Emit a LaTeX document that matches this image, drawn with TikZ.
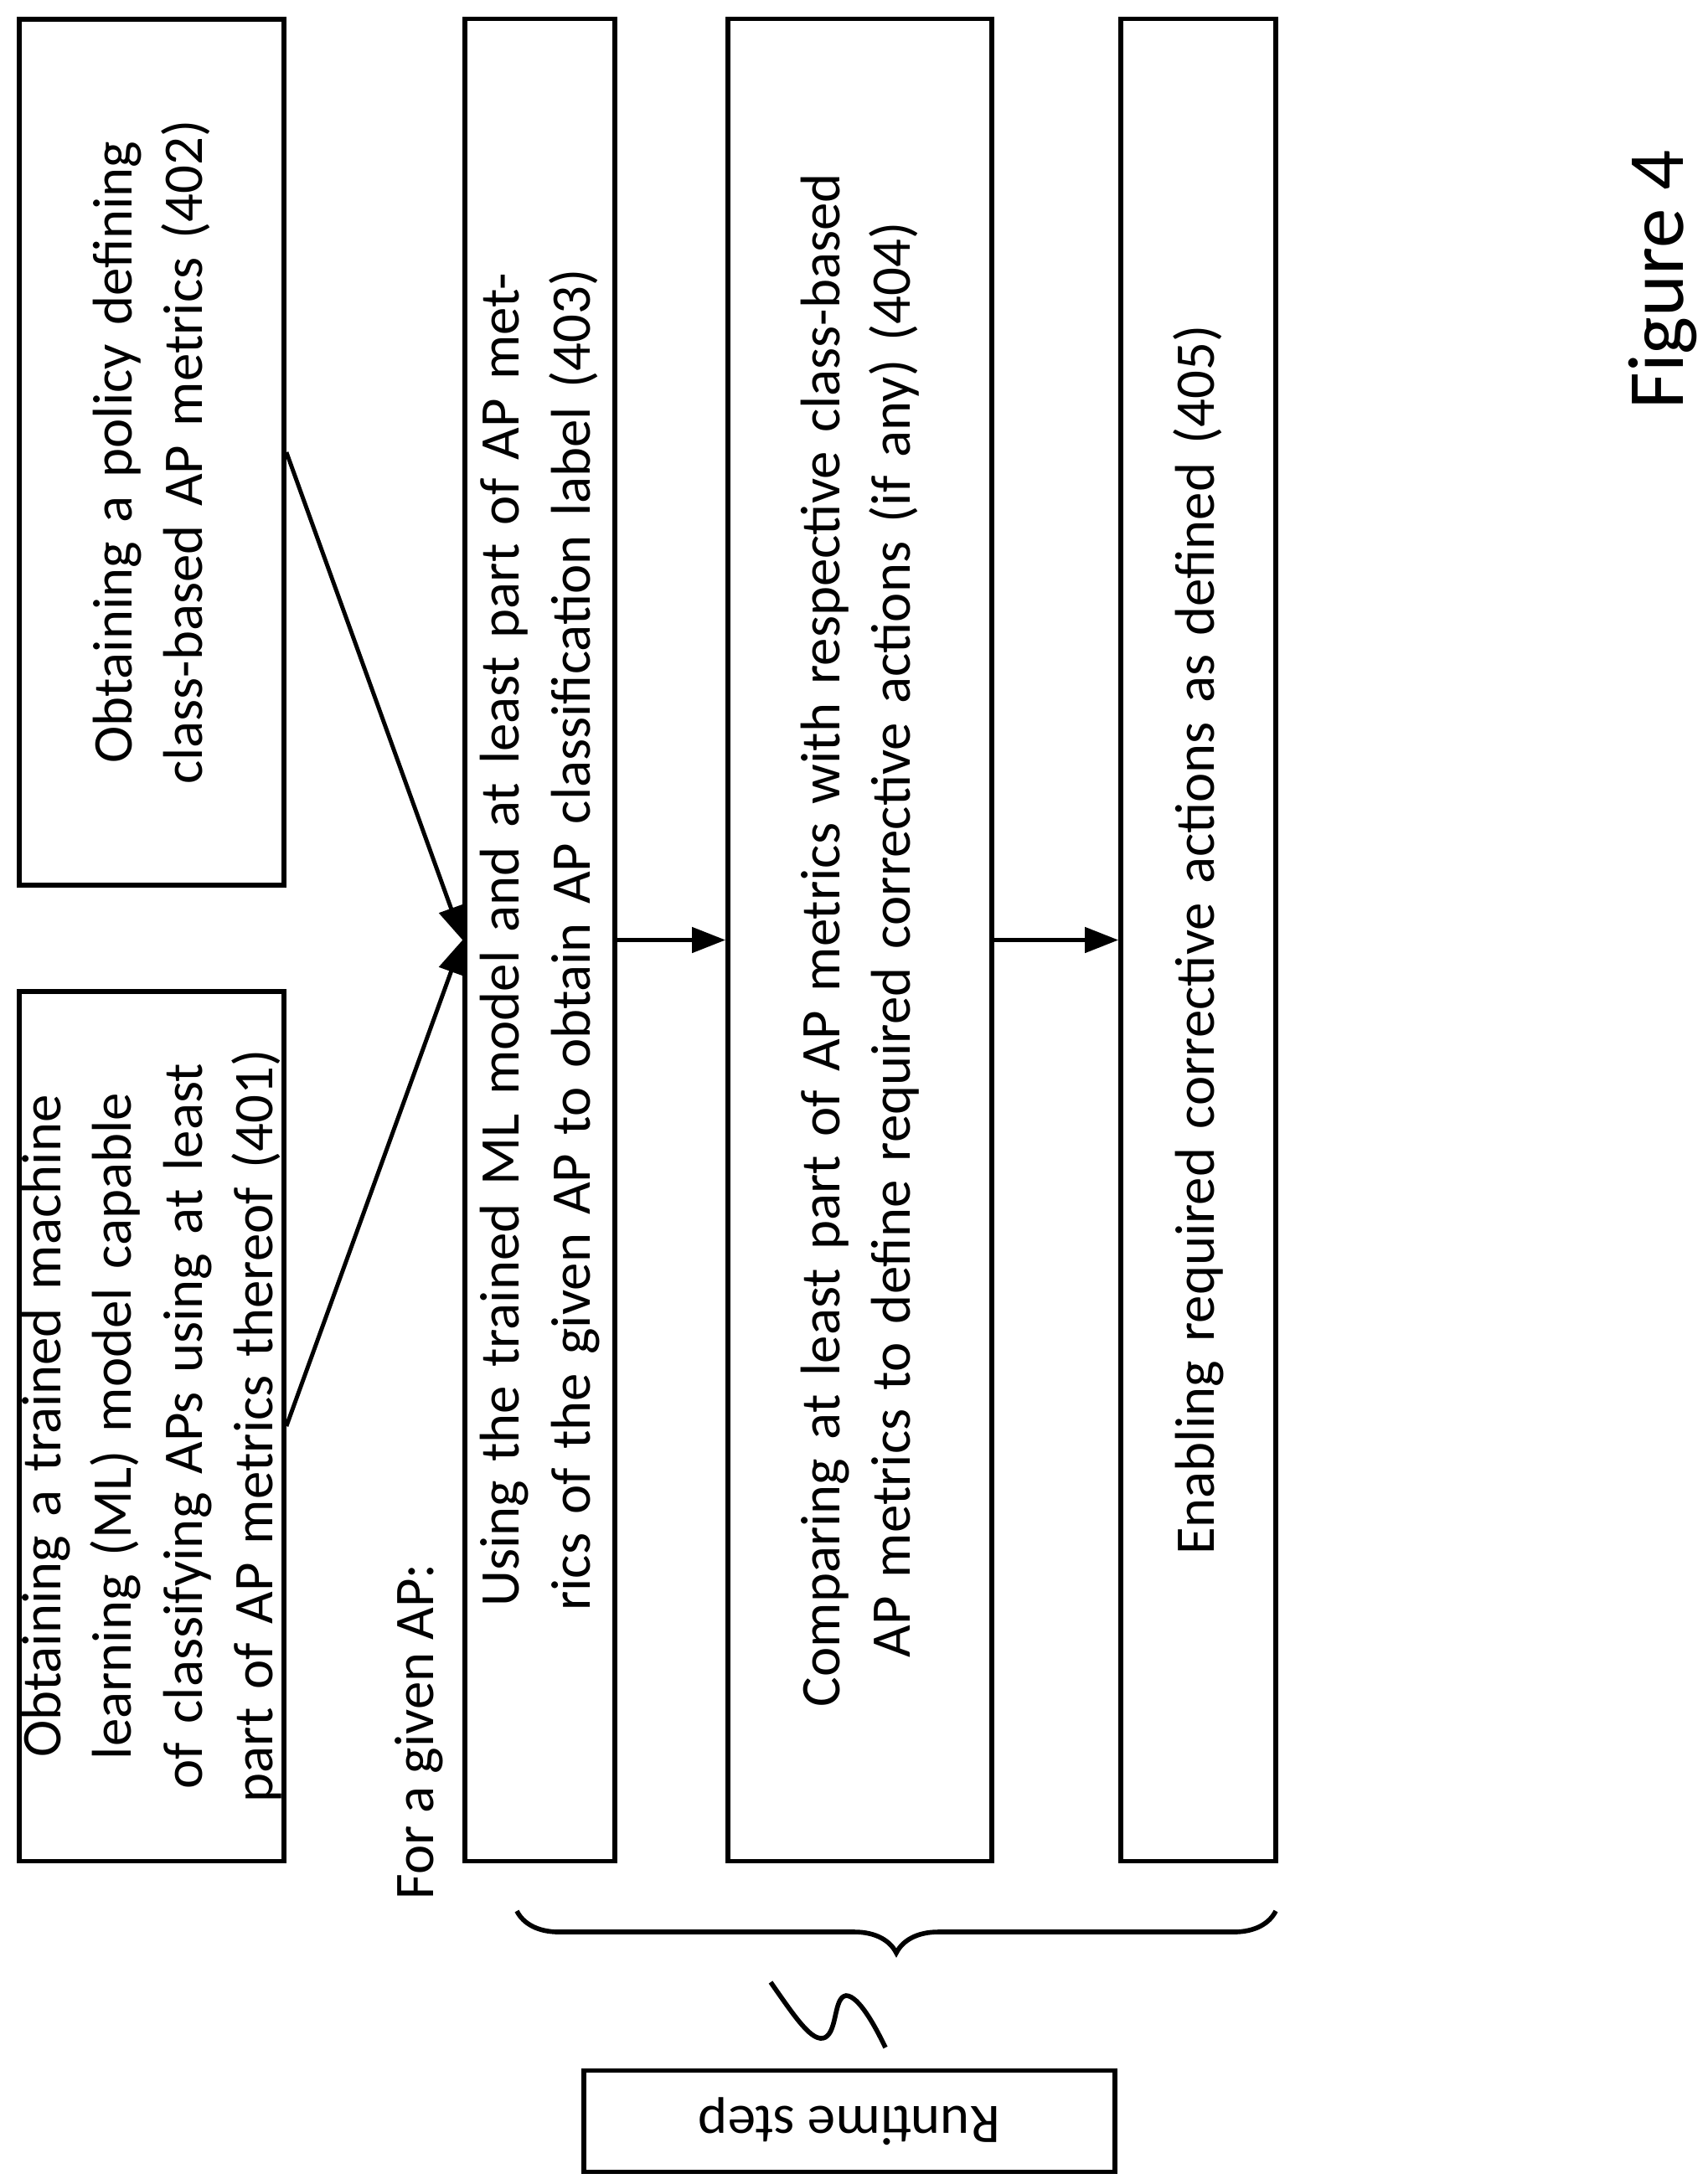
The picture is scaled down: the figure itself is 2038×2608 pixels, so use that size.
\documentclass[tikz,border=0pt]{standalone}
\usepackage{fontspec}
\setmainfont{Carlito}
\usetikzlibrary{arrows.meta, positioning, calc, decorations.pathreplacing}
\tikzset{
    stepbox/.style={
        rectangle, draw=black, line width=1.6pt, rotate=90,
        align=center, inner sep=0pt, font=\fontsize{19}{24}\selectfont
    },
    arrow/.style={-{Triangle[length=4mm, width=3mm]}, line width=1.4pt},
    plaintext/.style={font=\fontsize{19}{24}\selectfont, inner sep=0pt},
}
\begin{document}
\begin{tikzpicture}[x=0.01cm, y=-0.01cm]
    \useasboundingbox (0,0) rectangle (2038,2608);

    \node[stepbox, minimum width=10.38cm, minimum height=3.16cm, text width=9.6cm] (train) at (181,1703)
        {Obtaining a trained machine learning (ML) model capable of classifying APs using at least part of AP metrics thereof (401)};
    \node[stepbox, minimum width=10.33cm, minimum height=3.16cm, text width=9.6cm] (policy) at (181,540)
        {Obtaining a policy defining class-based AP metrics (402)};
    \node[stepbox, minimum width=21.99cm, minimum height=1.79cm, text width=21.5cm] (classify) at (644.5,1122.5)
        {Using the trained ML model and at least part of AP metrics of the given AP to obtain AP classification label (403)};
    \node[stepbox, minimum width=21.99cm, minimum height=3.15cm, text width=21.5cm] (compare) at (1026.5,1122.5)
        {Comparing at least part of AP metrics with respective class-based AP metrics to define required corrective actions (if any) (404)};
    \node[stepbox, minimum width=21.99cm, minimum height=1.85cm, text width=21.5cm] (enable) at (1430.5,1122.5)
        {Enabling required corrective actions as defined (405)};

    \node[plaintext, rotate=90] (given) at (500,2068) {For a given AP:};
    \node[plaintext, rotate=90, font=\fontsize{27}{32}\selectfont] (fig) at (1985,334) {Figure 4};

    \draw[arrow] (train.south) -- (classify.north);
    \draw[arrow] (policy.south) -- (classify.north);
    \draw[arrow] (classify.south) -- (compare.north);
    \draw[arrow] (compare.south) -- (enable.north);

    % runtime brace
    \coordinate (braceR) at (1523,2282);
    \coordinate (braceL) at (617,2282);
    \draw[line width=1.6pt, decorate, decoration={brace, amplitude=0.5cm, aspect=0.5}] (braceR) -- (braceL);
    \draw[line width=1.6pt] (920,2367) .. controls (950,2410) and (970,2440) .. (985,2433)
        .. controls (1000,2425) and (995,2385) .. (1010,2383)
        .. controls (1025,2383) and (1045,2420) .. (1057,2445);

    \node[rectangle, draw=black, line width=1.6pt, minimum width=6.34cm, minimum height=1.21cm,
        rotate=180, plaintext] (runtime) at (1014,2533) {Runtime step};
\end{tikzpicture}
\end{document}
